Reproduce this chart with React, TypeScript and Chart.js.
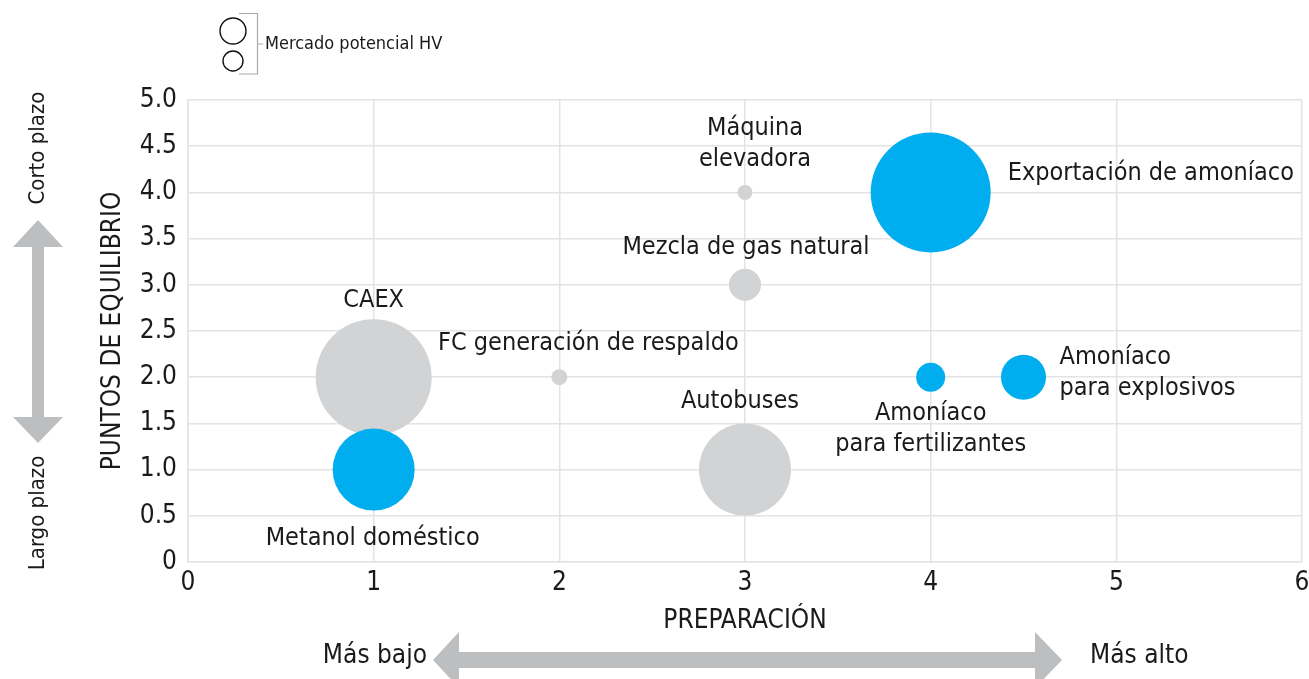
import React, { useEffect, useRef } from "react";
import { Chart, registerables, BubbleController } from "chart.js";

Chart.register(...registerables);

// bubble controller that does not reserve extra layout padding for bubble overflow
class FlatBubbleController extends (BubbleController as any) {
  getMaxOverflow() {
    return 0;
  }
}
(FlatBubbleController as any).id = "flatBubble";
(FlatBubbleController as any).defaults = (BubbleController as any).defaults;
(FlatBubbleController as any).overrides = (BubbleController as any).overrides;
Chart.register(FlatBubbleController as any);

// ---- Data ----
const grayNames = ["Máquina\nelevadora", "Mezcla de gas natural", "CAEX", "FC generación de respaldo", "Autobuses"];
const grayX = [3, 3, 1, 2, 3];
const grayY = [4, 3, 2, 2, 1];
const grayMarket = [7.5, 16, 58, 8, 46];

const blueNames = ["Exportación de amoníaco", "Amoníaco\npara fertilizantes", "Amoníaco\npara explosivos", "Metanol doméstico"];
const blueX = [4, 4, 4.5, 1];
const blueY = [4, 2, 2, 1];
const blueMarket = [60, 14.5, 22.5, 41];

const xTicks = [0, 1, 2, 3, 4, 5, 6];
const yTicks = [0, 0.5, 1, 1.5, 2, 2.5, 3, 3.5, 4, 4.5, 5];

// label placement (offset from bubble centre, alignment)
const grayPlace = [
  { dx: 10, dy: -64, align: "center" },
  { dx: 1, dy: -37, align: "center" },
  { dx: 0, dy: -77, align: "center" },
  { dx: 29, dy: -34, align: "center" },
  { dx: -5, dy: -68, align: "center" },
];
const bluePlace = [
  { dx: 77, dy: -19, align: "left" },
  { dx: 0, dy: 36, align: "center" },
  { dx: 36, dy: -20, align: "left" },
  { dx: -1, dy: 69, align: "center" },
];

const FONT = '"Liberation Sans Narrow", "Arial Narrow", "DejaVu Sans Condensed", sans-serif';
const BLUE = "#00aeef";
const GRAY = "#d1d3d4";
const ARROW = "#bcbec0";
const TEXT = "#1a1a1a";

const extrasPlugin = {
  id: "extras",
  afterDatasetsDraw(chart: any) {
    const ctx = chart.ctx;
    ctx.save();
    ctx.fillStyle = TEXT;
    ctx.textBaseline = "middle";
    ctx.font = `25px ${FONT}`;
    const drawLabels = (dsIndex: number, names: string[], place: any[]) => {
      const meta = chart.getDatasetMeta(dsIndex);
      meta.data.forEach((el: any, i: number) => {
        const p = place[i];
        ctx.textAlign = p.align;
        const lines = names[i].split("\n");
        lines.forEach((ln: string, j: number) => {
          ctx.fillText(ln, el.x + p.dx, el.y + p.dy + j * 31);
        });
      });
    };
    drawLabels(1, grayNames, grayPlace);
    drawLabels(0, blueNames, bluePlace);

    // legend
    ctx.strokeStyle = "#111";
    ctx.lineWidth = 1.4;
    ctx.beginPath();
    ctx.arc(233, 31, 13, 0, Math.PI * 2);
    ctx.stroke();
    ctx.beginPath();
    ctx.arc(233, 61, 10, 0, Math.PI * 2);
    ctx.stroke();
    ctx.strokeStyle = "#a7a9ac";
    ctx.lineWidth = 1.2;
    ctx.beginPath();
    ctx.moveTo(239, 13.5);
    ctx.lineTo(257.5, 13.5);
    ctx.lineTo(257.5, 74);
    ctx.lineTo(239, 74);
    ctx.moveTo(257.5, 44);
    ctx.lineTo(263, 44);
    ctx.stroke();
    ctx.fillStyle = TEXT;
    ctx.textAlign = "left";
    ctx.font = `18px ${FONT}`;
    ctx.fillText("Mercado potencial HV", 265, 44);

    // vertical arrow
    ctx.fillStyle = ARROW;
    ctx.beginPath();
    const cx = 38;
    ctx.moveTo(cx, 220);
    ctx.lineTo(cx + 25, 247);
    ctx.lineTo(cx + 6, 247);
    ctx.lineTo(cx + 6, 417);
    ctx.lineTo(cx + 25, 417);
    ctx.lineTo(cx, 443);
    ctx.lineTo(cx - 25, 417);
    ctx.lineTo(cx - 6, 417);
    ctx.lineTo(cx - 6, 247);
    ctx.lineTo(cx - 25, 247);
    ctx.closePath();
    ctx.fill();

    // horizontal arrow
    const cy = 660;
    ctx.beginPath();
    ctx.moveTo(433, cy);
    ctx.lineTo(459, cy - 28);
    ctx.lineTo(459, cy - 8);
    ctx.lineTo(1035, cy - 8);
    ctx.lineTo(1035, cy - 28);
    ctx.lineTo(1062, cy);
    ctx.lineTo(1035, cy + 28);
    ctx.lineTo(1035, cy + 8);
    ctx.lineTo(459, cy + 8);
    ctx.lineTo(459, cy + 28);
    ctx.closePath();
    ctx.fill();

    ctx.fillStyle = TEXT;
    ctx.font = `26px ${FONT}`;
    ctx.textAlign = "right";
    ctx.fillText("Más bajo", 427, 656);
    ctx.textAlign = "left";
    ctx.fillText("Más alto", 1090, 656);

    // side texts
    ctx.font = `22px ${FONT}`;
    ctx.textAlign = "center";
    ctx.save();
    ctx.translate(38, 148);
    ctx.rotate(-Math.PI / 2);
    ctx.fillText("Corto plazo", 0, 0);
    ctx.restore();
    ctx.save();
    ctx.translate(38, 513);
    ctx.rotate(-Math.PI / 2);
    ctx.fillText("Largo plazo", 0, 0);
    ctx.restore();

    ctx.restore();
  },
};

export default function App() {
  const ref = useRef<HTMLCanvasElement>(null);
  useEffect(() => {
    document.body.style.margin = "0";
    const chart = new Chart(ref.current as HTMLCanvasElement, {
      type: "flatBubble" as any,
      data: {
        datasets: [
          {
            label: "Mercado potencial HV (azul)",
            data: blueX.map((x, i) => ({ x, y: blueY[i], r: blueMarket[i] })),
            backgroundColor: BLUE,
            borderWidth: 0,
          },
          {
            label: "Mercado potencial HV (gris)",
            data: grayX.map((x, i) => ({ x, y: grayY[i], r: grayMarket[i] })),
            backgroundColor: GRAY,
            borderWidth: 0,
          },
        ],
      },
      options: {
        animation: false,
        responsive: false,
        clip: false as any,
        layout: { padding: { left: 98, right: 7, top: 100, bottom: 40 } },
        plugins: { legend: { display: false }, tooltip: { enabled: false } },
        scales: {
          x: {
            type: "linear",
            position: "bottom",
            min: 0,
            max: 6,
            afterFit: (s: any) => {
              s.height = 77;
              s.paddingLeft = 0;
              s.paddingRight = 0;
            },
            afterBuildTicks: (s: any) => { s.ticks = xTicks.map((v) => ({ value: v })); },
            grid: { color: "#e3e3e3", lineWidth: 1.5, drawTicks: false },
            border: { color: "#e3e3e3", width: 1.5 },
            ticks: {
              padding: 6,
              color: TEXT,
              font: { family: FONT, size: 26 },
              maxRotation: 0,
              callback: (v: any) => String(v),
            },
            title: {
              display: true,
              text: "PREPARACIÓN",
              color: TEXT,
              font: { family: FONT, size: 26 },
              padding: { top: 0, bottom: 2 },
            },
          },
          y: {
            type: "linear",
            position: "left",
            min: 0,
            max: 5,
            afterFit: (s: any) => {
              s.width = 90;
              s.paddingTop = 0;
              s.paddingBottom = 0;
            },
            afterBuildTicks: (s: any) => { s.ticks = yTicks.map((v) => ({ value: v })); },
            grid: { color: "#e3e3e3", lineWidth: 1.5, drawTicks: false },
            border: { color: "#e3e3e3", width: 1.5 },
            ticks: {
              padding: 11,
              color: TEXT,
              font: { family: FONT, size: 26 },
              callback: (v: any) => (v === 0 ? "0" : Number(v).toFixed(1)),
            },
            title: {
              display: true,
              text: "PUNTOS DE EQUILIBRIO",
              color: TEXT,
              font: { family: FONT, size: 26 },
              padding: { top: 0, bottom: 0 },
            },
          },
        },
      },
      plugins: [extrasPlugin],
    });
    return () => chart.destroy();
  }, []);
  return (
    <div style={{ width: 1309, height: 679 }}>
      <canvas ref={ref} width={1309} height={679} style={{ display: "block" }} />
    </div>
  );
}
